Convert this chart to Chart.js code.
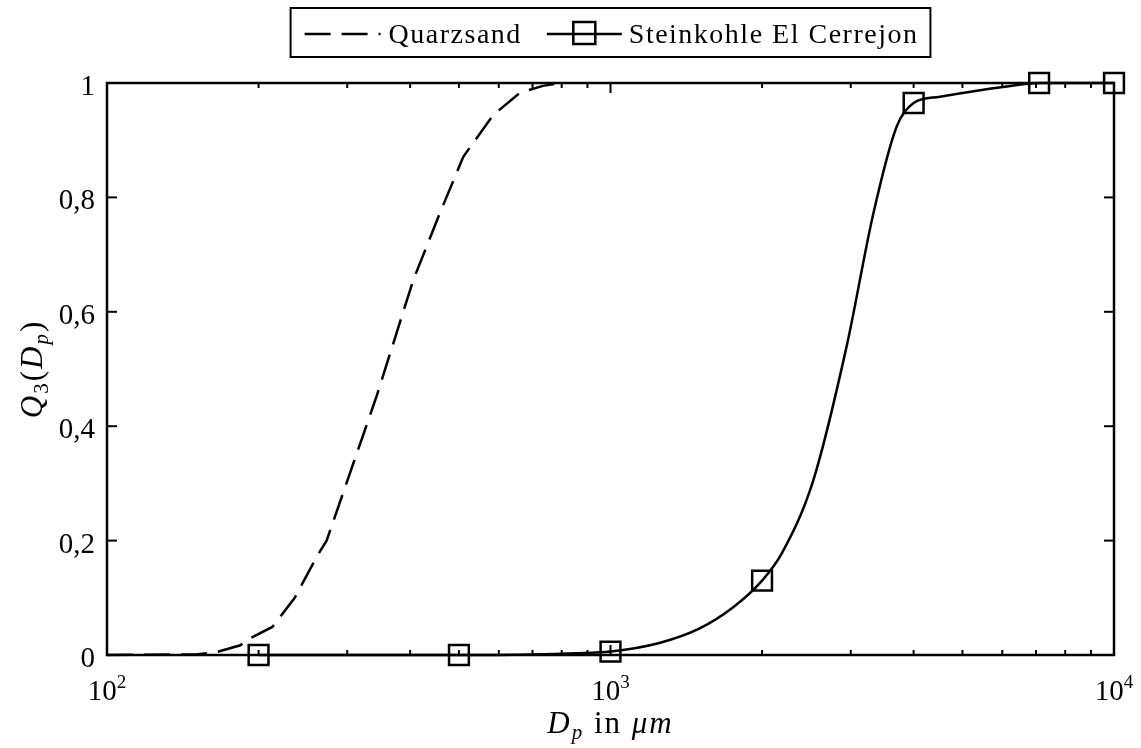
<!DOCTYPE html>
<html>
<head>
<meta charset="utf-8">
<script src="https://cdn.jsdelivr.net/npm/chart.js@4.4.1/dist/chart.umd.min.js"></script>
<style>
  html, body { margin: 0; background: #fff; }
  #wrap { width: 1141px; height: 748px; }
</style>
</head>
<body>
<div id="wrap"><canvas id="chart"></canvas></div>
<script>
// Quarzsand (dashed)
const quarzX = [100, 150, 165, 184, 191, 213, 236, 261, 273, 343, 406, 458, 510, 585, 661, 734, 800];
const quarzY = [0, 0.001, 0.005, 0.017, 0.028, 0.049, 0.1, 0.172, 0.2, 0.452, 0.656, 0.772, 0.871, 0.944, 0.983, 0.995, 1];

// Steinkohle El Cerrejon (solid)
const steinX = [200, 500, 700, 850, 1000, 1250, 1500, 1750, 2000, 2190, 2527, 2945, 3327, 3702, 4000, 4512, 6020, 7100, 10000];
const steinY = [0, 0, 0.001, 0.003, 0.006, 0.021, 0.046, 0.083, 0.13, 0.178, 0.305, 0.54, 0.772, 0.924, 0.965, 0.976, 0.993, 1, 1];
const markX = [200, 500, 1000, 2000, 4000, 7100, 10000];

const xMajor = [100, 1000, 10000];
const xExp = ["2", "3", "4"];
const xMinor = [200, 300, 400, 500, 600, 700, 800, 900, 2000, 3000, 4000, 5000, 6000, 7000, 8000, 9000];
const yTicks = [0, 0.2, 0.4, 0.6, 0.8, 1];
const yLabels = ["0", "0,2", "0,4", "0,6", "0,8", "1"];

const FONT = '"Liberation Serif", "DejaVu Serif", serif';

const toPts = (xs, ys) => xs.map((x, i) => ({ x, y: ys[i] }));

// draws a run of text pieces: [text, font, yOffset]
function drawRuns(ctx, runs, x, y, align) {
  let w = 0;
  runs.forEach(r => { ctx.font = r[1]; w += ctx.measureText(r[0]).width; });
  let cx = align === "center" ? x - w / 2 : x;
  ctx.textAlign = "left";
  runs.forEach(r => {
    ctx.font = r[1];
    ctx.fillText(r[0], cx, y + (r[2] || 0));
    cx += ctx.measureText(r[0]).width;
  });
}

const decor = {
  id: "decor",
  beforeDatasetsDraw(chart) {
    const { ctx, chartArea: a, scales: { x, y } } = chart;
    ctx.save();
    ctx.strokeStyle = "#000";
    ctx.fillStyle = "#000";
    ctx.lineWidth = 2.5;
    ctx.strokeRect(a.left, a.top, a.right - a.left, a.bottom - a.top);

    ctx.lineWidth = 2;
    const seg = (x1, y1, x2, y2) => { ctx.beginPath(); ctx.moveTo(x1, y1); ctx.lineTo(x2, y2); ctx.stroke(); };
    xMajor.forEach(v => {
      const px = x.getPixelForValue(v);
      seg(px, a.bottom, px, a.bottom - 10);
      seg(px, a.top, px, a.top + 10);
    });
    xMinor.forEach(v => {
      const px = x.getPixelForValue(v);
      seg(px, a.bottom, px, a.bottom - 5);
      seg(px, a.top, px, a.top + 5);
    });
    yTicks.forEach(v => {
      const py = y.getPixelForValue(v);
      seg(a.left, py, a.left + 10, py);
      seg(a.right, py, a.right - 10, py);
    });

    // y tick labels
    ctx.font = "29px " + FONT;
    ctx.textAlign = "right";
    ctx.textBaseline = "alphabetic";
    yTicks.forEach((v, i) => ctx.fillText(yLabels[i], a.left - 12, y.getPixelForValue(v) + 12));

    // x tick labels 10^n
    xMajor.forEach((v, i) => {
      const px = x.getPixelForValue(v);
      drawRuns(ctx, [["10", "29px " + FONT, 0], [xExp[i], "19px " + FONT, -12]], px, a.bottom + 45, "center");
    });

    // axis titles
    ctx.letterSpacing = "2px";
    const it = "italic 31px " + FONT, itS = "italic 21px " + FONT, rg = "31px " + FONT;
    drawRuns(ctx, [["D", it], ["p", itS, 6], [" in ", rg], ["\u03bcm", it]], (a.left + a.right) / 2, a.bottom + 78, "center");

    ctx.save();
    ctx.translate(42, (a.top + a.bottom) / 2);
    ctx.rotate(-Math.PI / 2);
    drawRuns(ctx, [["Q", it], ["3", "21px " + FONT, 6], ["(", rg], ["D", it], ["p", itS, 6], [")", rg]], 0, 0, "center");
    ctx.restore();
    ctx.restore();
  },
  afterDraw(chart) {
    const { ctx, chartArea: a } = chart;
    const ds = chart.data.datasets;
    ctx.save();
    ctx.font = "28px " + FONT;
    ctx.letterSpacing = "1.5px";
    const w1 = ctx.measureText(ds[0].label).width;
    const w2 = ctx.measureText(ds[1].label).width;
    const total = 14 + 76 + 8 + w1 + 25 + 75 + 7 + w2 + 12;
    const left = (a.left + a.right) / 2 - total / 2;
    const top = 8, h = 49, cy = 34;
    ctx.strokeStyle = "#000";
    ctx.fillStyle = "#000";
    ctx.lineWidth = 2;
    ctx.strokeRect(left, top, total, h);

    let cx = left + 14;
    ctx.lineWidth = 2.5;
    ctx.setLineDash([26, 11]);
    ctx.beginPath(); ctx.moveTo(cx, cy); ctx.lineTo(cx + 76, cy); ctx.stroke();
    ctx.setLineDash([]);
    cx += 76 + 8;
    ctx.textAlign = "left";
    ctx.textBaseline = "alphabetic";
    ctx.fillText(ds[0].label, cx, 43);
    cx += w1 + 25;
    ctx.beginPath(); ctx.moveTo(cx, cy); ctx.lineTo(cx + 75, cy); ctx.stroke();
    ctx.strokeRect(cx + 37.5 - 11, cy - 12, 22, 22);
    cx += 75 + 7;
    ctx.fillText(ds[1].label, cx, 43);
    ctx.restore();
  }
};

new Chart(document.getElementById("chart").getContext("2d"), {
  type: "line",
  data: {
    datasets: [
      {
        label: "Quarzsand",
        data: toPts(quarzX, quarzY),
        borderColor: "#000",
        borderWidth: 2.5,
        borderDash: [26, 11],
        tension: 0,
        pointRadius: 0,
        clip: false
      },
      {
        label: "Steinkohle El Cerrejon",
        data: toPts(steinX, steinY),
        borderColor: "#000",
        borderWidth: 2.5,
        cubicInterpolationMode: "monotone",
        pointStyle: "rect",
        pointRadius: c => (c.raw && markX.includes(c.raw.x) ? 14 : 0),
        pointHoverRadius: c => (c.raw && markX.includes(c.raw.x) ? 14 : 0),
        pointBorderWidth: 2.5,
        pointBorderColor: "#000",
        pointBackgroundColor: "rgba(0,0,0,0)",
        clip: false
      }
    ]
  },
  options: {
    responsive: true,
    maintainAspectRatio: false,
    animation: false,
    layout: { padding: { left: 107, right: 27, top: 83, bottom: 93 } },
    plugins: { legend: { display: false }, tooltip: { enabled: false } },
    scales: {
      x: { type: "logarithmic", min: 100, max: 10000, display: false },
      y: { type: "linear", min: 0, max: 1, display: false }
    }
  },
  plugins: [decor]
});
</script>
</body>
</html>
